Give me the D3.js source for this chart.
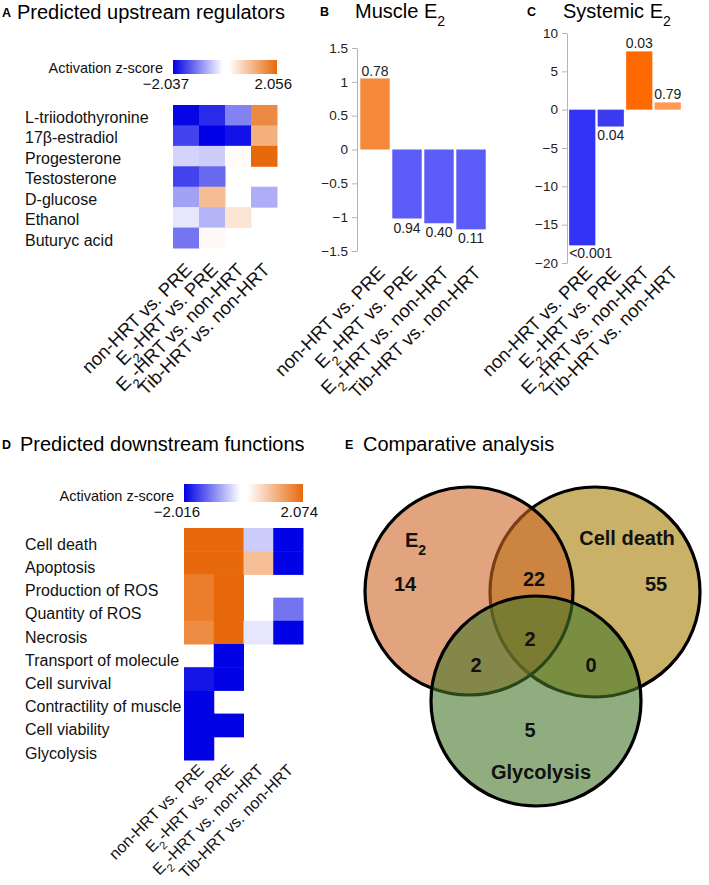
<!DOCTYPE html>
<html>
<head>
<meta charset="utf-8">
<script src="https://cdn.jsdelivr.net/npm/d3@7"></script>
<style>
  body { margin: 0; background: #fff; }
  svg { font-family: "Liberation Sans", Arial, sans-serif; }
</style>
</head>
<body>
<div id="fig"></div>
<script>
// comparisons shared by every panel
var comparisons = ["non-HRT vs. PRE", "E2-HRT vs. PRE", "E2-HRT vs. non-HRT", "Tib-HRT vs. non-HRT"];

// panel A - upstream regulators, activation z-scores (null = not predicted)
var regulators = ["L-triiodothyronine", "17β-estradiol", "Progesterone", "Testosterone", "D-glucose", "Ethanol", "Buturyc acid"];
var regulatorZ = [
  [-2.0, -1.7, -1.0, 1.6],
  [-1.5, -2.037, -1.9, 1.1],
  [-0.35, -0.4, 0.05, 2.056],
  [-1.5, -1.2, null, null],
  [-0.75, 0.9, null, -0.65],
  [-0.2, -0.6, 0.35, null],
  [-1.1, 0.08, null, null]
];
var regulatorRange = [-2.037, 2.056];

// panel B - muscle E2
var muscleE2 = [1.05, -1.02, -1.09, -1.18];
var muscleP = ["0.78", "0.94", "0.40", "0.11"];
var muscleTicks = [1.5, 1, 0.5, 0, -0.5, -1, -1.5];

// panel C - systemic E2
var systemicE2 = [-17.7, -2.2, 7.6, 0.95];
var systemicP = ["<0.001", "0.04", "0.03", "0.79"];
var systemicTicks = [10, 5, 0, -5, -10, -15, -20];

// panel D - downstream functions
var functions = ["Cell death", "Apoptosis", "Production of ROS", "Quantity of ROS", "Necrosis",
  "Transport of molecule", "Cell survival", "Contractility of muscle", "Cell viability", "Glycolysis"];
var functionZ = [
  [2.074, 2.074, -0.4, -2.0],
  [2.074, 2.074, 0.9, -2.0],
  [1.8, 2.074, null, null],
  [1.8, 2.074, null, -1.1],
  [1.6, 2.074, -0.2, -2.0],
  [null, -2.0, null, null],
  [-1.85, -2.0, null, null],
  [-2.0, null, null, null],
  [-2.0, -2.0, null, null],
  [-2.0, null, null, null]
];
var functionRange = [-2.016, 2.074];

// panel E - venn counts
var vennSets = ["E2", "Cell death", "Glycolysis"];
var vennCounts = { e2: 14, death: 55, gly: 5, e2_death: 22, e2_gly: 2, death_gly: 0, all: 2 };

var W = 709, H = 885;
var svg = d3.select("#fig").append("svg").attr("width", W).attr("height", H);

var BLUE = "#0000e6", ORANGE = "#e8690b";

// writes "E2" with a subscript 2
function subLabel(sel, str, subSize) {
  var parts = str.split("E2");
  parts.forEach(function(p, i) {
    if (i > 0) {
      sel.append("tspan").text("E");
      sel.append("tspan").attr("baseline-shift", "sub").attr("font-size", subSize).text("2");
    }
    if (p.length) sel.append("tspan").attr("baseline-shift", "0").text(p);
  });
}

function panelTitle(letter, lx, title, tx, y) {
  svg.append("text").attr("x", lx).attr("y", y - 2).attr("font-size", 12.5)
    .attr("font-weight", "bold").text(letter);
  var t = svg.append("text").attr("x", tx).attr("y", y).attr("font-size", 20);
  subLabel(t, title, 14);
}

function rotatedLabels(xScale, yPos, dx, size) {
  svg.append("g").selectAll("text")
    .data(comparisons)
    .enter()
    .append("text")
    .attr("text-anchor", "end")
    .attr("font-size", size)
    .attr("fill", "#111")
    .attr("transform", function(d) {
      return "translate(" + (xScale(d) + xScale.bandwidth() / 2 + dx) + "," + yPos + ") rotate(-45)";
    })
    .each(function(d) { subLabel(d3.select(this), d, size * 0.7); });
}

function heatmap(rows, values, range, x0, x1, y0, y1, cbar, labelShift) {
  var color = d3.scaleLinear().domain([range[0], 0, range[1]]).range([BLUE, "#ffffff", ORANGE]);
  var x = d3.scaleBand().domain(comparisons).range([x0, x1]);
  var y = d3.scaleBand().domain(rows).range([y0, y1]);

  // colour bar
  var gid = "grad" + Math.round(y0);
  var zf = (0 - range[0]) / (range[1] - range[0]);
  var grad = svg.append("defs").append("linearGradient").attr("id", gid);
  grad.append("stop").attr("offset", 0).attr("stop-color", BLUE);
  grad.append("stop").attr("offset", zf - 0.02).attr("stop-color", "#fff");
  grad.append("stop").attr("offset", zf + 0.04).attr("stop-color", "#fff");
  grad.append("stop").attr("offset", 1).attr("stop-color", ORANGE);

  svg.append("rect").attr("x", x0).attr("y", cbar.y).attr("width", x1 - x0).attr("height", cbar.h)
    .attr("fill", "url(#" + gid + ")");
  svg.append("text").attr("x", x0 - 10).attr("y", cbar.y + cbar.h - 1).attr("text-anchor", "end")
    .attr("font-size", 14.5).attr("fill", "#111").text("Activation z-score");
  svg.append("text").attr("x", x0 + 16).attr("y", cbar.y + cbar.h + 15).attr("text-anchor", "end")
    .attr("font-size", 15).attr("fill", "#111").text("\u2212" + Math.abs(range[0]).toFixed(3));
  svg.append("text").attr("x", x1 + 15).attr("y", cbar.y + cbar.h + 15).attr("text-anchor", "end")
    .attr("font-size", 15).attr("fill", "#111").text(range[1].toFixed(3));

  var cells = [];
  values.forEach(function(r, i) {
    r.forEach(function(v, j) {
      if (v !== null) cells.push({ row: rows[i], col: comparisons[j], v: v });
    });
  });
  svg.append("g").selectAll("rect")
    .data(cells)
    .enter()
    .append("rect")
    .attr("x", function(d) { return x(d.col); })
    .attr("y", function(d) { return y(d.row); })
    .attr("width", x.bandwidth() + 0.5)
    .attr("height", y.bandwidth() + 0.5)
    .attr("fill", function(d) { return color(d.v); });

  svg.append("g").selectAll("text")
    .data(rows)
    .enter()
    .append("text")
    .attr("x", 25)
    .attr("y", function(d) { return y(d) + y.bandwidth() - labelShift; })
    .attr("font-size", 16)
    .attr("fill", "#111")
    .text(function(d) { return d; });
  return x;
}

// ---------- A ----------
panelTitle("A", 2, "Predicted upstream regulators", 17, 19);
var xA = heatmap(regulators, regulatorZ, regulatorRange, 173, 277, 105, 248, { y: 60, h: 14 }, 2.5);
rotatedLabels(xA, 271, 7, 18.5);

// ---------- bar panels ----------
function barPanel(vals, pvals, ticks, colors, xr, yr, domain, axisX, pAbove, pBelow, pvLeft) {
  var x = d3.scaleBand().domain(comparisons).range(xr).paddingInner(0.08).paddingOuter(0.04);
  var y = d3.scaleLinear().domain(domain).range(yr);

  var ax = svg.append("g").attr("transform", "translate(" + axisX + ",0)")
    .call(d3.axisLeft(y).tickValues(ticks).tickSize(5).tickSizeOuter(0)
      .tickFormat(function(d) { return d < 0 ? "\u2212" + Math.abs(d) : d; }));
  ax.select(".domain").attr("stroke", "#b5b5b5");
  ax.selectAll(".tick line").attr("stroke", "#b5b5b5");
  ax.selectAll(".tick text").attr("font-size", 13.5).attr("font-family", "Liberation Sans, Arial, sans-serif")
    .attr("fill", "#222").attr("x", -9);

  svg.append("g").selectAll("rect")
    .data(vals)
    .enter()
    .append("rect")
    .attr("x", function(d, i) { return x(comparisons[i]); })
    .attr("width", x.bandwidth())
    .attr("y", function(d) { return y(Math.max(0, d)); })
    .attr("height", function(d) { return Math.abs(y(d) - y(0)); })
    .attr("fill", function(d, i) { return colors[i]; });

  svg.append("g").selectAll("text")
    .data(vals)
    .enter()
    .append("text")
    .attr("font-size", 14)
    .attr("fill", "#222")
    .attr("text-anchor", function(d, i) { return pvLeft[i] ? "start" : "middle"; })
    .attr("x", function(d, i) {
      return pvLeft[i] ? x(comparisons[i]) : x(comparisons[i]) + x.bandwidth() / 2;
    })
    .attr("y", function(d) { return d >= 0 ? y(d) - pAbove : y(d) + pBelow; })
    .text(function(d, i) { return pvals[i]; });
  return x;
}

panelTitle("B", 320, "Muscle E2", 355, 18);
var xB = barPanel(muscleE2, muscleP, muscleTicks, ["#f5883a", "#5c5cf8", "#5c5cf8", "#5c5cf8"],
  [359, 487], [251, 48], [-1.5, 1.5], 357, 2, 14, [false, false, false, false]);
rotatedLabels(xB, 274, 11, 18.5);

panelTitle("C", 527, "Systemic E2", 563, 18);
var xC = barPanel(systemicE2, systemicP, systemicTicks, ["#3333f5", "#3b3bf0", "#ff6a00", "#ff9a55"],
  [568, 682], [263, 33], [-20, 10], 567, 3, 13, [true, false, false, false]);
rotatedLabels(xC, 274, 11, 18.5);

// ---------- D ----------
panelTitle("D", 2, "Predicted downstream functions", 20, 451);
var xD = heatmap(functions, functionZ, functionRange, 184, 303, 528, 760, { y: 484, h: 18 }, 1.5);
rotatedLabels(xD, 771, 6, 16);

// ---------- E ----------
panelTitle("E", 345, "Comparative analysis", 363, 451);

var circles = [
  { set: "Cell death", cx: 595, cy: 592, r: 105, fill: "#c9b168", op: 1 },
  { set: "E2", cx: 469, cy: 591, r: 104, fill: "#cf6728", op: 0.6 },
  { set: "Glycolysis", cx: 536, cy: 701, r: 105, fill: "#447628", op: 0.6 }
];
svg.append("g").selectAll("circle")
  .data(circles)
  .enter()
  .append("circle")
  .attr("cx", function(d) { return d.cx; })
  .attr("cy", function(d) { return d.cy; })
  .attr("r", function(d) { return d.r; })
  .attr("fill", function(d) { return d.fill; })
  .attr("fill-opacity", function(d) { return d.op; })
  .attr("stroke", "#000")
  .attr("stroke-width", 3.2);

var vennText = [
  { t: vennSets[0], x: 405, y: 547, a: "start" },
  { t: vennSets[1], x: 627, y: 545, a: "middle" },
  { t: vennSets[2], x: 541, y: 779, a: "middle" },
  { t: vennCounts.e2, x: 405, y: 591 },
  { t: vennCounts.death, x: 656, y: 591 },
  { t: vennCounts.gly, x: 530, y: 737 },
  { t: vennCounts.e2_death, x: 534, y: 586 },
  { t: vennCounts.e2_gly, x: 476, y: 672 },
  { t: vennCounts.death_gly, x: 591, y: 672 },
  { t: vennCounts.all, x: 530, y: 646 }
];
svg.append("g").selectAll("text")
  .data(vennText)
  .enter()
  .append("text")
  .attr("x", function(d) { return d.x; })
  .attr("y", function(d) { return d.y; })
  .attr("text-anchor", function(d) { return d.a || "middle"; })
  .attr("font-size", 20)
  .attr("font-weight", "bold")
  .attr("fill", "#111")
  .each(function(d) { subLabel(d3.select(this), String(d.t), 14); });
</script>
</body>
</html>
